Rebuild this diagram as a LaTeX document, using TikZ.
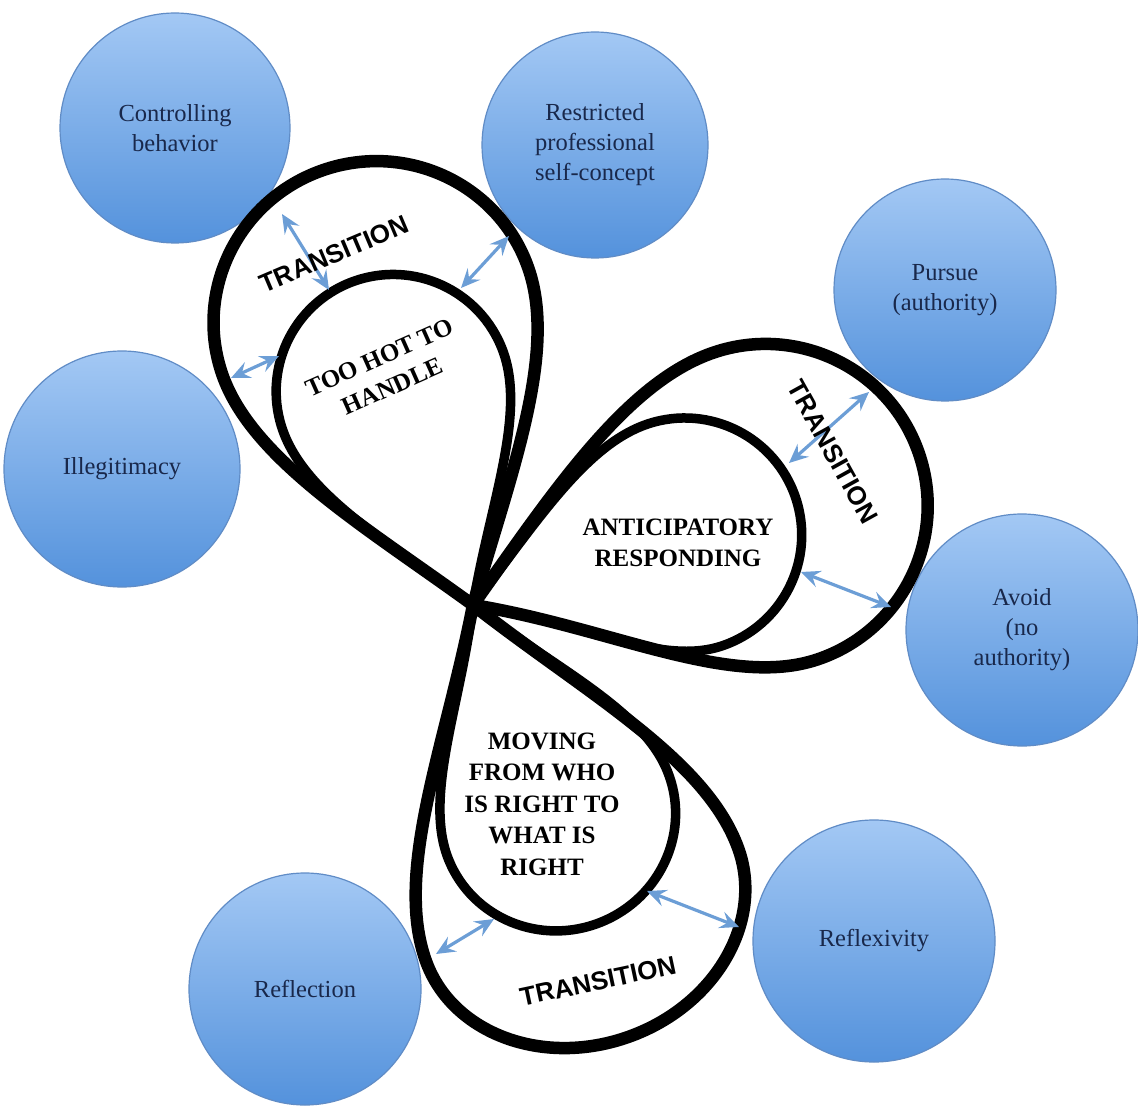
\documentclass[tikz,border=0pt]{standalone}
\usepackage{fontspec}
\setmainfont{Liberation Serif}
\newfontfamily\labelsans{Liberation Sans}
\usetikzlibrary{arrows.meta}

\definecolor{bubbletop}{RGB}{163,200,244}
\definecolor{bubblebottom}{RGB}{84,146,220}
\definecolor{bubbleedge}{RGB}{96,140,198}
\definecolor{bubbletext}{RGB}{25,40,75}
\definecolor{linkblue}{RGB}{108,158,214}

% One teardrop loop: tip at #1, axis angle #2, head centre distance #3,
% lateral radius #4, radius along the axis #5, side angles #6 (ccw) / #7 (cw), style #8
\newcommand\petal[8]{%
  \path[#8, shift={#1}, rotate=#2]
    (0,0) .. controls ({0.45*#3*cos(#7)},{-0.45*#3*sin(#7)}) and ({0.7*#3},{-#4}) .. (#3,-#4)
    .. controls ({#3+0.552*#5},{-#4}) and ({#3+#5},{-0.552*#4}) .. ({#3+#5},0)
    .. controls ({#3+#5},{0.552*#4}) and ({#3+0.552*#5},{#4}) .. (#3,#4)
    .. controls ({0.7*#3},{#4}) and ({0.45*#3*cos(#6)},{0.45*#3*sin(#6)}) .. (0,0) -- cycle;}

% The three nested loop pairs; #1 styles the outer loops, #2 the inner ones
\newcommand\allpetals[2]{%
  \petal{(tip)}{109}{300}{162}{160}{35}{35}{#1}
  \petal{(tip)}{110.5}{228}{117}{117}{33}{30}{#2}
  \petal{(tip)}{18.7}{309}{162}{162}{36}{28}{#1}
  \petal{(tip)}{18.3}{223}{117}{117}{34}{26}{#2}
  \petal{(tip)}{-70}{319}{166}{140}{32}{31}{#1}
  \petal{(tip)}{-68}{227}{118}{115}{30}{29}{#2}}

\tikzset{linkhead/.tip={Stealth[length=19pt,width=17pt,inset=7pt]}}

\begin{document}
\begin{tikzpicture}[x=1pt,y=1pt,
  bubble/.style={circle, draw=bubbleedge, line width=1.2pt,
    top color=bubbletop, bottom color=bubblebottom,
    text=bubbletext, align=center, inner sep=0pt,
    font=\fontsize{24.5}{30}\selectfont},
  stage/.style={align=center, text=black,
    font=\fontsize{25}{31.5}\selectfont\bfseries},
  transition/.style={text=black, font=\labelsans\fontsize{26}{30}\selectfont\bfseries},
  link/.style={linkhead-linkhead, draw=linkblue, line width=3.2pt},
  outerloop/.style={draw=black, line width=12.5pt, line join=round},
  innerloop/.style={draw=black, line width=9.5pt, line join=round}]

\fill[white] (0,0) rectangle (1138,-1107);
\useasboundingbox (0,0) rectangle (1138,-1107);

% Outcome bubbles
\node[bubble, minimum size=230pt] (ctrl)  at (175,-128)  {Controlling\\behavior};
\node[bubble, minimum size=226pt] (restr) at (595,-145)  {Restricted\\professional\\self-concept};
\node[bubble, minimum size=222pt] (purs)  at (945,-290)  {Pursue\\(authority)};
\node[bubble, minimum size=236pt] (illeg) at (122,-469)  {Illegitimacy};
\node[bubble, minimum size=232pt] (avoid) at (1022,-630) {Avoid\\(no\\authority)};
\node[bubble, minimum size=242pt] (reflx) at (874,-941)  {Reflexivity};
\node[bubble, minimum size=232pt] (refl)  at (305,-989)  {Reflection};

% Shared tip of the loops
\coordinate (tip) at (473,-605);

% Loops: white interiors first, then the outlines
\allpetals{fill=white}{fill=white}
\allpetals{outerloop}{innerloop}

% Ends of the two-way links
\coordinate (l1a) at (282,-214); \coordinate (l1b) at (329,-290);
\coordinate (l2a) at (509,-236); \coordinate (l2b) at (461,-288);
\coordinate (l3a) at (231,-378); \coordinate (l3b) at (279,-356);
\coordinate (l4a) at (869,-392); \coordinate (l4b) at (789,-463);
\coordinate (l5a) at (891,-607); \coordinate (l5b) at (801,-572);
\coordinate (l6a) at (436,-954); \coordinate (l6b) at (494,-919);
\coordinate (l7a) at (739,-927); \coordinate (l7b) at (647,-891);

\draw[link] (l1a) -- (l1b);
\draw[link] (l2a) -- (l2b);
\draw[link] (l3a) -- (l3b);
\draw[link] (l4a) -- (l4b);
\draw[link] (l5a) -- (l5b);
\draw[link] (l6a) -- (l6b);
\draw[link] (l7a) -- (l7b);

% Stage labels
\node[stage, rotate=24] (hot) at (386,-372) {TOO HOT TO\\HANDLE};
\node[stage] (antic) at (678,-543) {ANTICIPATORY\\RESPONDING};
\node[stage] (moving) at (542,-804) {MOVING\\FROM WHO\\IS RIGHT TO\\WHAT IS\\RIGHT};

\node[transition, rotate=23]  (tr1) at (334,-254) {TRANSITION};
\node[transition, rotate=-61] (tr2) at (833,-452) {TRANSITION};
\node[transition, rotate=12]  (tr3) at (598,-981) {TRANSITION};

\end{tikzpicture}
\end{document}
